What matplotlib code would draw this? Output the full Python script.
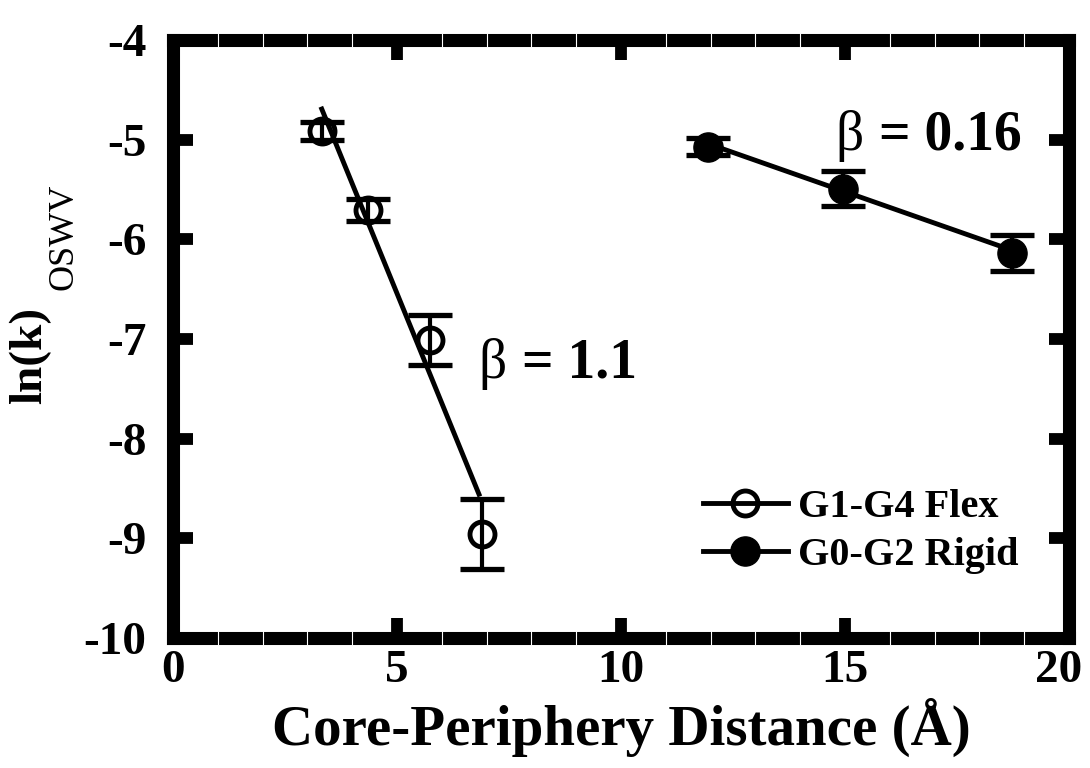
import matplotlib
matplotlib.use("Agg")
import matplotlib.pyplot as plt
from matplotlib.lines import Line2D
from matplotlib.ticker import MultipleLocator
from matplotlib.transforms import offset_copy, ScaledTranslation

plt.rcParams['font.family'] = ['Liberation Serif', 'DejaVu Serif']
plt.rcParams['font.weight'] = 'bold'
plt.rcParams['axes.unicode_minus'] = False

# Flexible dendrimers (G1-G4)
flex_x = [3.32, 4.35, 5.74, 6.89]
flex_y = [-4.91, -5.71, -7.01, -8.96]
flex_err = [0.09, 0.11, 0.25, 0.35]
flex_fit_x = [3.30, 6.85]
flex_fit_y = [-4.67, -8.58]
flex_beta = "1.1"

# Rigid dendrimers (G0-G2)
rigid_x = [11.94, 14.96, 18.73]
rigid_y = [-5.07, -5.49, -6.14]
rigid_err = [0.085, 0.18, 0.18]
rigid_fit_x = [11.94, 18.73]
rigid_fit_y = [-5.04, -6.11]
rigid_beta = "0.16"

series_labels = ["G1-G4 Flex", "G0-G2 Rigid"]
x_ticks = [0, 5, 10, 15, 20]
y_ticks = [-10, -9, -8, -7, -6, -5, -4]

fig = plt.figure(figsize=(10.9, 7.68), dpi=100)
ax = fig.add_axes([173 / 1090, 130 / 768, 896 / 1090, 598 / 768])

# fitted lines
ax.plot(flex_fit_x, flex_fit_y, color='k', lw=3.5, solid_capstyle='butt', zorder=2)
ax.plot(rigid_fit_x, rigid_fit_y, color='k', lw=3.5, solid_capstyle='butt', zorder=2)

# error bars
for xs, ys, es in [(flex_x, flex_y, flex_err), (rigid_x, rigid_y, rigid_err)]:
    ax.errorbar(xs, ys, yerr=es, fmt='none', ecolor='k', elinewidth=3,
                capsize=15.5, capthick=3.8, zorder=3)

# markers
ax.plot(flex_x, flex_y, 'o', ms=18, mfc='none', mec='k', mew=3.5, zorder=4)
ax.plot(rigid_x, rigid_y, 'o', ms=21, mfc='k', mec='k', mew=1, zorder=4)

# slope annotations: thin beta followed by bold value
for bx, by, val in [(6.81, -7.39, flex_beta), (14.78, -5.10, rigid_beta)]:
    ax.text(bx, by, "β", fontsize=40, fontweight='normal',
            ha='left', va='baseline')
    ax.text(bx, by, "= " + val, fontsize=40, fontweight='bold',
            ha='left', va='baseline',
            transform=offset_copy(ax.transData, fig, x=44, y=0, units='dots'))

ax.set_xlim(0, 20)
ax.set_ylim(-10, -4)
ax.set_xticks(x_ticks)
ax.set_yticks(y_ticks)
ax.xaxis.set_minor_locator(MultipleLocator(1))

for sp in ax.spines.values():
    sp.set_linewidth(9.4)
    sp.set_capstyle('projecting')

ax.tick_params(which='major', direction='in', length=14.5, width=8.5,
               top=True, right=True, labelsize=34, pad=9)
ax.tick_params(axis='y', which='major', pad=19)
ax.tick_params(axis='x', which='minor', direction='inout', length=9.4,
               width=0.8, color='white', top=True, bottom=True)
ax.xaxis.set_zorder(3)
for lab in ax.get_xticklabels() + ax.get_yticklabels():
    lab.set_fontweight('bold')

# keep the last x tick label inside the canvas
last = ax.xaxis.get_major_ticks()[-1].label1
last.set_transform(last.get_transform()
                   + ScaledTranslation(-10 / 100, 0, fig.dpi_scale_trans))

ax.set_xlabel("Core-Periphery Distance (Å)", fontsize=41, fontweight='bold',
              labelpad=4)

# y-axis title: bold ln(k) with a regular-weight subscript
fig.text(30 / 1090, 1 - 355 / 768, "ln(k)", fontsize=34, fontweight='bold',
         rotation=90, ha='center', va='center')
fig.text(64 / 1090, 1 - 237 / 768, "OSWV", fontsize=26, fontweight='normal',
         rotation=90, ha='center', va='center')

handles = [
    Line2D([], [], color='k', lw=3.5, marker='o', ms=18, mfc='none',
           mec='k', mew=3.5),
    Line2D([], [], color='k', lw=3.5, marker='o', ms=21, mfc='k',
           mec='k', mew=1),
]
ax.legend(handles, series_labels, loc='center left',
          bbox_to_anchor=((703 - 173) / 896, (638 - 531.5) / 598),
          frameon=False, prop={'family': 'Liberation Serif', 'weight': 'bold',
                               'size': 29},
          handlelength=2.1, handletextpad=0.25, labelspacing=0.25,
          borderpad=0, borderaxespad=0)

fig.savefig("out.png", dpi=100)
